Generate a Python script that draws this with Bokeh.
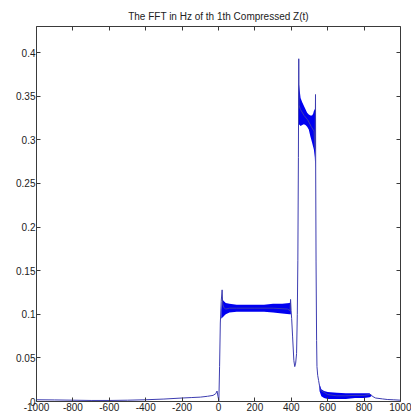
from bokeh.plotting import figure
from bokeh.models import LinearAxis, FixedTicker, CustomJSTickFormatter, Range1d
from bokeh.embed import file_html
from bokeh.resources import INLINE

title_text = "The FFT in Hz of th 1th Compressed Z(t)"
x_ticks = [-1000, -800, -600, -400, -200, 0, 200, 400, 600, 800, 1000]
y_ticks = [0, 0.05, 0.1, 0.15, 0.2, 0.25, 0.3, 0.35, 0.4]

# thin trace (centre of the spectrum)
main_f = [-1000, -900, -800, -700, -600, -500, -400, -300, -200, -150, -100, -60, -30, -15, -8, -3,
          2, 6, 10, 15, 20, 23, 28, 40, 60, 100, 200, 300, 380, 393, 396, 399, 402, 407, 414, 419,
          424, 429, 433, 436, 439, 441, 442, 450, 470, 490, 510, 525, 531, 533, 534, 536, 539, 541,
          545, 550, 555, 560, 600, 650, 700, 750, 800, 830, 838, 845, 863, 900, 927, 960, 1000]
main_v = [0.002, 0.0018, 0.0015, 0.0012, 0.0012, 0.0015, 0.002, 0.0028, 0.004, 0.0045, 0.005, 0.006,
          0.007, 0.009, 0.012, 0.006, 0.001, 0.04, 0.09, 0.115, 0.128, 0.112, 0.108, 0.106, 0.107,
          0.107, 0.107, 0.107, 0.106, 0.104, 0.117, 0.104, 0.095, 0.075, 0.047, 0.040, 0.044, 0.055,
          0.1, 0.162, 0.28, 0.393, 0.34, 0.335, 0.328, 0.323, 0.315, 0.31, 0.29, 0.352, 0.262, 0.16,
          0.07, 0.04, 0.03, 0.024, 0.018, 0.013, 0.008, 0.0065, 0.0065, 0.007, 0.007, 0.008, 0.008,
          0.006, 0.004, 0.003, 0.0023, 0.002, 0.0015]

# dense oscillation bands (envelopes)
band1_f = [15, 20, 25, 30, 40, 60, 100, 150, 200, 250, 300, 350, 390, 398]
band1_hi = [0.105, 0.117, 0.116, 0.115, 0.113, 0.112, 0.111, 0.111, 0.111, 0.111, 0.112, 0.112, 0.113, 0.114]
band1_lo = [0.095, 0.096, 0.097, 0.098, 0.100, 0.102, 0.103, 0.103, 0.103, 0.103, 0.102, 0.101, 0.100, 0.100]

band2_f = [438, 441, 446, 451, 460, 469, 478, 487, 496, 505, 514, 520, 524, 529, 532]
band2_hi = [0.33, 0.366, 0.357, 0.348, 0.343, 0.339, 0.335, 0.331, 0.329, 0.328, 0.328, 0.330, 0.333, 0.335, 0.336]
band2_lo = [0.316, 0.318, 0.317, 0.316, 0.317, 0.318, 0.317, 0.315, 0.312, 0.304, 0.297, 0.292, 0.289, 0.280, 0.268]

band3_f = [555, 565, 580, 600, 650, 700, 750, 800, 830, 840]
band3_hi = [0.020, 0.014, 0.012, 0.011, 0.010, 0.0095, 0.0095, 0.0095, 0.0095, 0.007]
band3_lo = [0.012, 0.006, 0.004, 0.003, 0.003, 0.003, 0.004, 0.004, 0.005, 0.006]

FONT = "Liberation Sans"
AX = "#3a3a3a"
TXT = "#222222"

p = figure(width=411, height=419, output_backend="svg", toolbar_location=None,
           x_range=Range1d(-1000, 1000), y_range=Range1d(0, 0.43),
           min_border_left=36, min_border_right=11, min_border_top=26, min_border_bottom=18,
           x_axis_location=None, y_axis_location=None)
p.xgrid.visible = False
p.ygrid.visible = False
p.outline_line_color = None
p.background_fill_color = "white"
p.border_fill_color = "white"

p.title.text = title_text
p.title.text_font = FONT
p.title.text_font_size = "10px"
p.title.text_font_style = "normal"
p.title.text_color = TXT
p.title.align = "center"
p.title.standoff = 9

fmt = CustomJSTickFormatter(code="return parseFloat(tick.toFixed(3)).toString();")

def style(ax, labels=True):
    ax.axis_line_color = AX
    ax.axis_line_width = 1
    ax.major_tick_line_color = AX
    ax.major_tick_in = 4
    ax.major_tick_out = 0
    ax.minor_tick_line_color = None
    ax.major_label_text_font = FONT
    ax.major_label_text_font_size = "10px"
    if labels:
        ax.major_label_text_color = TXT
        ax.major_label_standoff = 1
    else:
        ax.major_label_text_color = None
        ax.major_label_text_font_size = "1px"
        ax.major_label_standoff = 0

bx = LinearAxis(ticker=FixedTicker(ticks=x_ticks), formatter=fmt)
tx = LinearAxis(ticker=FixedTicker(ticks=x_ticks), formatter=fmt)
ly = LinearAxis(ticker=FixedTicker(ticks=y_ticks), formatter=fmt)
ry = LinearAxis(ticker=FixedTicker(ticks=y_ticks), formatter=fmt)
style(bx); style(ly)
style(tx, False); style(ry, False)
p.add_layout(bx, "below")
p.add_layout(ly, "left")
p.add_layout(tx, "above")
p.add_layout(ry, "right")

BLUE = "#0000f0"
for f, hi, lo in [(band1_f, band1_hi, band1_lo), (band2_f, band2_hi, band2_lo), (band3_f, band3_hi, band3_lo)]:
    p.varea(x=f, y1=lo, y2=hi, fill_color=BLUE, fill_alpha=1)

p.line(main_f, main_v, line_color="#3c3cb0", line_width=1)

open("out.html", "w").write(file_html(p, INLINE))
